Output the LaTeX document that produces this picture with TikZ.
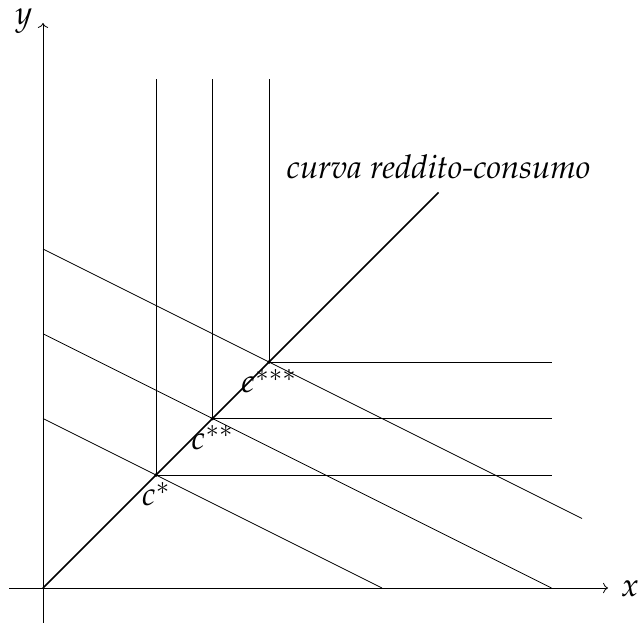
\documentclass[tikz,border=0pt]{standalone}
\usepackage[T1]{fontenc}
\usepackage{mathpazo}
\usepackage{tikz}
\usetikzlibrary{arrows.meta, positioning}

\begin{document}
\begin{tikzpicture}[scale=1, every node/.style={font=\fontsize{16.5}{20}\selectfont}]
        \useasboundingbox (-0.761,-0.619) rectangle (10.566,10.407);

        % Points
        \coordinate (O) at (0,0);
        \coordinate (c1) at (2,2);
        \coordinate (c2) at (3,3);
        \coordinate (c3) at (4,4);
        \coordinate (top) at (7,7);

        % Axes
        \draw[->] (-0.6,0) -- (10,0);
        \draw[->] (0,-0.62) -- (0,10);
        \node (xlab) at (10.39,-0.02) {$x$};
        \node (ylab) at (-0.34,10.03) {$y$};

        % Budget lines
        \draw (0,3) -- (6,0);
        \draw (0,4.5) -- (9,0);
        \draw (0,6) -- (9.54,1.23);

        % Indifference curves (right angles)
        \draw (2,9) -- (c1) -- (9,2);
        \draw (3,9) -- (c2) -- (9,3);
        \draw (4,9) -- (c3) -- (9,4);

        % Income-consumption curve
        \draw[thick] (O) -- (top) node[above=3pt] (icc) {\textit{curva reddito-consumo}};

        % Optima
        \fill (c1) circle (1pt);
        \fill (c2) circle (1pt);
        \fill (c3) circle (1pt);
        \node[below] (l1) at (c1) {$c^{*}$};
        \node[below] (l2) at (c2) {$c^{**}$};
        \node[below] (l3) at (c3) {$c^{***}$};
    \end{tikzpicture}
\end{document}
